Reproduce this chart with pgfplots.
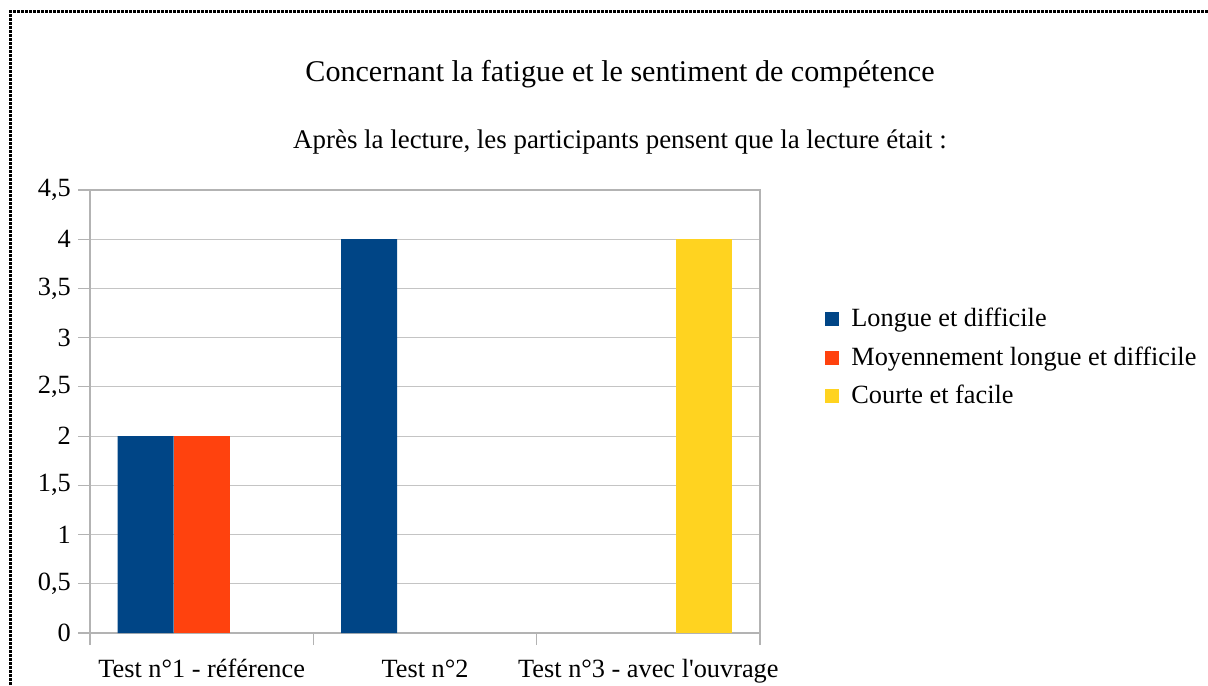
\documentclass[border=0pt]{standalone}
\usepackage{pgfplots}
\pgfplotsset{compat=1.18}
\usepackage{fontspec}
\setmainfont{Liberation Serif}
\newfontfamily\plainserif{Liberation Serif}
\definecolor{lblue}{HTML}{004586}
\definecolor{lorange}{HTML}{FF420E}
\definecolor{lyellow}{HTML}{FFD320}
\definecolor{axgray}{HTML}{B3B3B3}
\definecolor{gridgray}{HTML}{C4C4C4}
\begin{document}
\fontsize{13.2}{15}\selectfont
\begin{tikzpicture}[x=0.5bp,y=0.5bp]
\path[use as bounding box] (0,0) rectangle (1208,685);
\draw[line width=1.5bp, dash pattern=on 1.5bp off 0.5bp] (10,0) -- (10,673) -- (1208,673);
\node[font=\fontsize{15.1}{17}\selectfont] at (620,611) {Concernant la fatigue et le sentiment de compétence};
\node[font=\fontsize{13.5}{15}\selectfont] at (620,543) {Après la lecture, les participants pensent que la lecture était :};
\begin{axis}[
  at={(45bp,26bp)}, anchor=south west,
  scale only axis, width=335bp, height=221.5bp,
  xmin=-0.5, xmax=2.5, ymin=0, ymax=4.5,
  ytick={0,0.5,...,4.5},
  xtick={0,1,2},
  xticklabels={Test n°1 - référence, Test n°2, {\plainserif Test n°3 - avec l'ouvrage}},
  minor xtick={-0.5,0.5,1.5,2.5},
  major x tick style={draw=none},
  minor tick length=6bp,
  major tick length=6bp,
  tick align=outside,
  tick pos=left,
  tick style={axgray, line width=0.6bp},
  axis line style={axgray, line width=0.6bp},
  ymajorgrids, grid style={gridgray, line width=0.6bp},
  yticklabel style={xshift=1bp},
  xticklabel style={yshift=-2bp, text height=9.5bp, text depth=3bp},
  yticklabel={\pgfmathprintnumber[use comma,assume math mode=true]{\tick}},
  ybar, bar width=28bp,
  legend style={at={(1.097,0.621)}, anchor=west, draw=none, fill=none, row sep=4bp, inner sep=0pt},
  legend cell align=left,
  legend image code/.code={\fill[#1,draw=none] (-3.5bp,-3.5bp) rectangle (3.5bp,3.5bp); \path (7.5bp,0);},
]
\addplot[fill=lblue, draw=none, bar shift=-28bp] coordinates {(0,2) (1,4)};
\addplot[fill=lorange, draw=none, bar shift=0bp] coordinates {(0,2)};
\addplot[fill=lyellow, draw=none, bar shift=28bp] coordinates {(2,4)};
\legend{Longue et difficile, Moyennement longue et difficile, Courte et facile}
\end{axis}
\end{tikzpicture}
\end{document}
